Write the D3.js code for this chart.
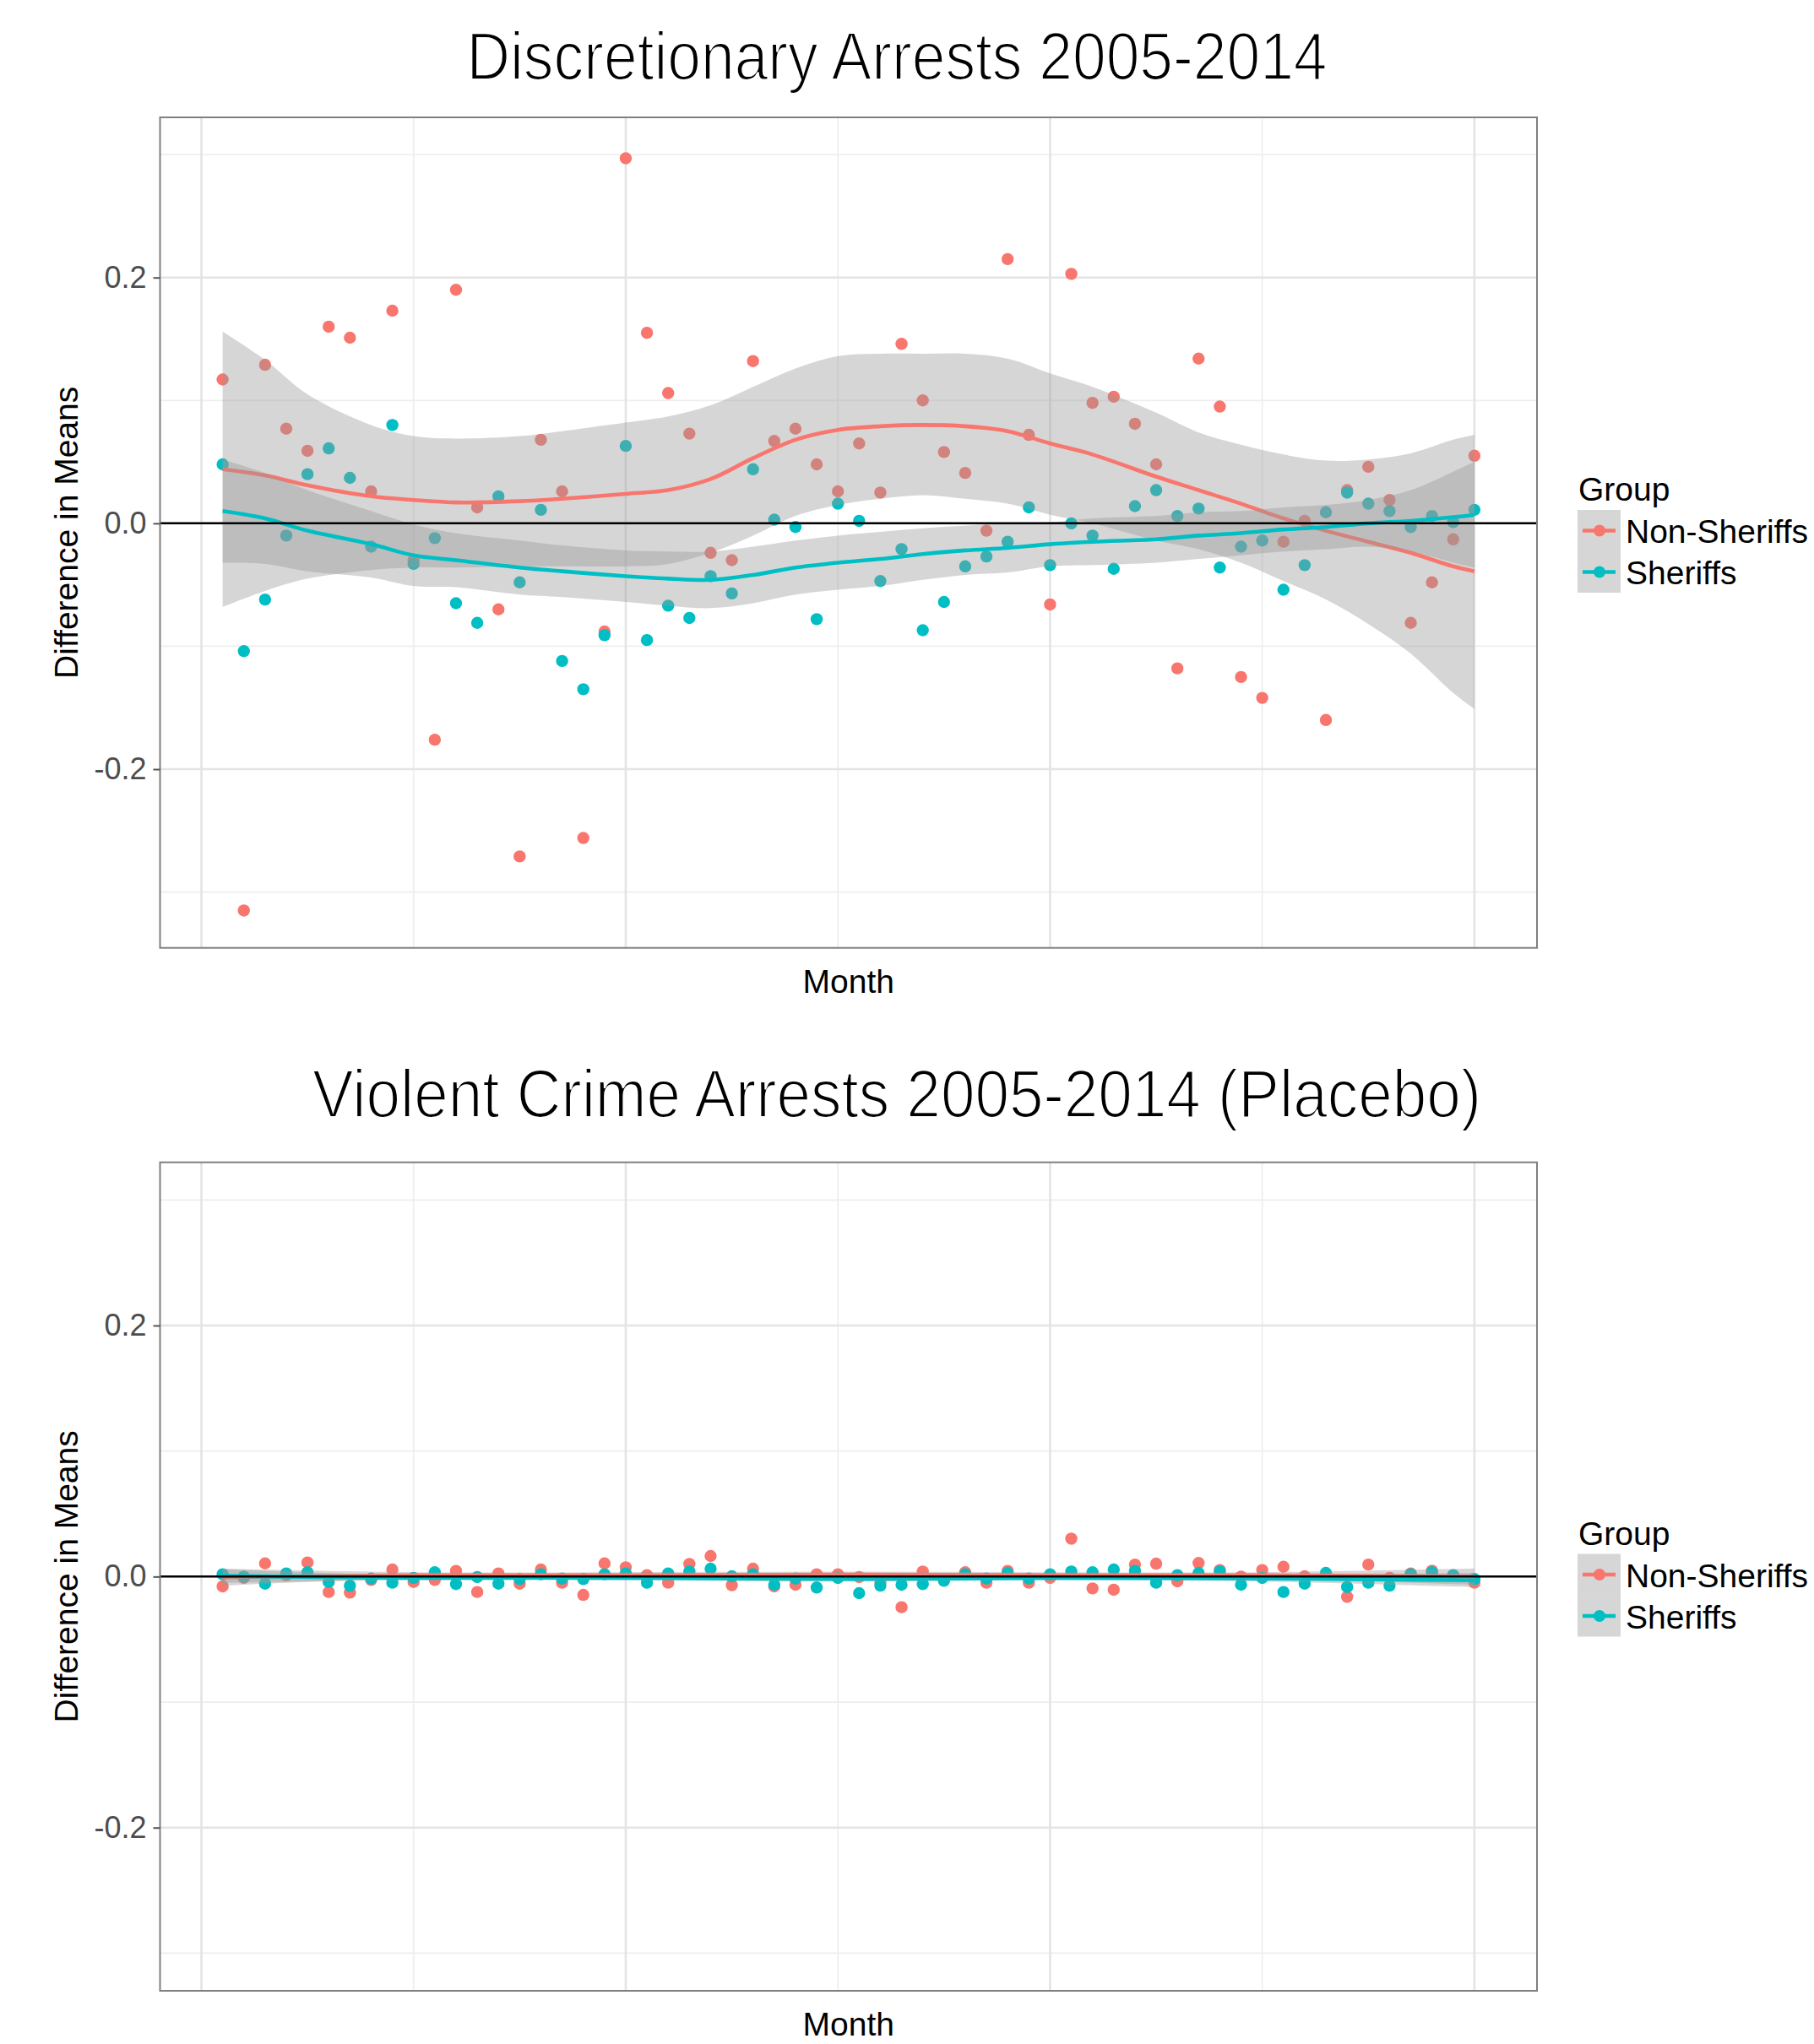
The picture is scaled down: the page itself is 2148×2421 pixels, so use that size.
<!DOCTYPE html>
<html>
<head>
<meta charset="utf-8">
<script src="https://cdn.jsdelivr.net/npm/d3@7"></script>
<style>
  body { margin: 0; background: #ffffff; }
  svg { display: block; }
</style>
</head>
<body>
<svg id="chart" width="2148" height="2421"></svg>
<script>
// ---------------- DATA ----------------
const months = [1,2,3,4,5,6,7,8,9,10,11,12,13,14,15,16,17,18,19,20,
  21,22,23,24,25,26,27,28,29,30,31,32,33,34,35,36,37,38,39,40,
  41,42,43,44,45,46,47,48,49,50,51,52,53,54,55,56,57,58,59,60];

const groups = ["Non-Sheriffs", "Sheriffs"];
const yTicksMajor = [-0.2, 0.0, 0.2];
const yTicksMinor = [-0.3, -0.1, 0.1, 0.3];
const xTicksMajor = [0, 20, 40, 60];
const xTicksMinor = [10, 30, 50];

// Discretionary arrests: difference in means by month
const discNonSheriffs = [0.117,-0.315,0.129,0.077,0.059,0.160,0.151,0.026,0.173,-0.030,
  -0.176,0.190,0.013,-0.070,-0.271,0.068,0.026,-0.256,-0.088,0.297,
  0.155,0.106,0.073,-0.024,-0.030,0.132,0.067,0.077,0.048,0.026,
  0.065,0.025,0.146,0.100,0.058,0.041,-0.006,0.215,0.072,-0.066,
  0.203,0.098,0.103,0.081,0.048,-0.118,0.134,0.095,-0.125,-0.142,
  -0.015,0.002,-0.160,0.027,0.046,0.019,-0.081,-0.048,-0.013,0.055];
const discSheriffs = [0.048,-0.104,-0.062,-0.010,0.040,0.061,0.037,-0.019,0.080,-0.033,
  -0.012,-0.065,-0.081,0.022,-0.048,0.011,-0.112,-0.135,-0.091,0.063,
  -0.095,-0.067,-0.077,-0.043,-0.057,0.044,0.003,-0.003,-0.078,0.016,
  0.002,-0.047,-0.021,-0.087,-0.064,-0.035,-0.027,-0.015,0.013,-0.034,
  0.000,-0.010,-0.037,0.014,0.027,0.006,0.012,-0.036,-0.019,-0.014,
  -0.054,-0.034,0.009,0.025,0.016,0.010,-0.003,0.006,0.001,0.011];

// Loess smooth for discretionary arrests
const discSmoothMonths = [1,3,5,8,10,12,15,17,20,22,24,26,28,30,32,34,36,38,40,42,45,47,49,51,53,55,57,59,60];
const discNonFit   = [0.044,0.039,0.031,0.022,0.019,0.017,0.018,0.020,0.024,0.027,0.036,0.053,0.068,0.076,0.079,0.080,0.079,0.075,0.065,0.056,0.038,0.027,0.016,0.004,-0.006,-0.015,-0.024,-0.035,-0.039];
const discNonUpper = [0.156,0.133,0.105,0.080,0.071,0.069,0.071,0.075,0.082,0.087,0.096,0.111,0.126,0.136,0.138,0.138,0.138,0.134,0.122,0.111,0.090,0.074,0.064,0.056,0.051,0.052,0.057,0.068,0.072];
const discNonLower = [-0.068,-0.055,-0.045,-0.038,-0.036,-0.036,-0.035,-0.035,-0.035,-0.033,-0.024,-0.010,0.006,0.015,0.020,0.023,0.020,0.016,0.007,0.000,-0.014,-0.021,-0.032,-0.047,-0.062,-0.082,-0.106,-0.138,-0.151];
const discShFit    = [0.010,0.004,-0.006,-0.017,-0.026,-0.030,-0.036,-0.039,-0.043,-0.045,-0.046,-0.042,-0.036,-0.032,-0.029,-0.025,-0.022,-0.020,-0.017,-0.015,-0.013,-0.010,-0.008,-0.005,-0.003,0.000,0.002,0.005,0.007];
const discShUpper  = [0.052,0.041,0.027,0.010,-0.001,-0.008,-0.014,-0.018,-0.022,-0.023,-0.023,-0.019,-0.014,-0.010,-0.007,-0.004,-0.002,0.000,0.001,0.004,0.006,0.009,0.010,0.013,0.015,0.019,0.027,0.042,0.050];
const discShLower  = [-0.032,-0.033,-0.039,-0.044,-0.051,-0.052,-0.058,-0.060,-0.064,-0.067,-0.069,-0.065,-0.058,-0.054,-0.051,-0.046,-0.042,-0.040,-0.035,-0.034,-0.032,-0.029,-0.026,-0.023,-0.021,-0.019,-0.023,-0.032,-0.036];

// Violent crime arrests (placebo)
const violNonSheriffs = [-0.0078,-0.0010,0.0105,0.0010,0.0112,-0.0123,-0.0128,-0.0027,0.0056,-0.0043,
  -0.0027,0.0045,-0.0123,0.0025,-0.0056,0.0056,-0.0049,-0.0146,0.0105,0.0074,
  0.0011,-0.0049,0.0101,0.0164,-0.0069,0.0063,-0.0078,-0.0065,0.0018,0.0018,
  -0.0004,-0.0050,-0.0244,0.0040,-0.0020,0.0034,-0.0049,0.0045,-0.0049,-0.0011,
  0.0302,-0.0094,-0.0105,0.0096,0.0103,-0.0038,0.0108,0.0052,0.0000,0.0052,
  0.0078,0.0002,0.0020,-0.0161,0.0096,-0.0010,0.0025,0.0047,0.0010,-0.0049];
const violSheriffs = [0.0018,0.0000,-0.0056,0.0025,0.0034,-0.0043,-0.0072,-0.0016,-0.0049,-0.0011,
  0.0034,-0.0060,-0.0004,-0.0056,-0.0020,0.0018,-0.0016,-0.0020,0.0018,0.0025,
  -0.0049,0.0025,0.0040,0.0063,0.0002,0.0018,-0.0065,-0.0016,-0.0087,-0.0011,
  -0.0132,-0.0072,-0.0065,-0.0060,-0.0034,0.0018,-0.0016,0.0029,-0.0016,0.0018,
  0.0040,0.0034,0.0056,0.0045,-0.0049,0.0011,0.0029,0.0040,-0.0065,-0.0011,
  -0.0123,-0.0056,0.0029,-0.0083,-0.0049,-0.0072,0.0018,0.0034,0.0011,-0.0020];

const violSmoothMonths = [1,10,20,30,40,50,60];
const violNonFit   = [-0.0005,0.0010,0.0010,0.0015,0.0010,0.0010,0.0000];
const violNonUpper = [0.0063,0.0035,0.0035,0.0040,0.0035,0.0035,0.0065];
const violNonLower = [-0.0073,-0.0015,-0.0015,-0.0010,-0.0015,-0.0015,-0.0065];
const violShFit    = [0.0005,-0.0010,-0.0010,-0.0020,-0.0010,-0.0015,-0.0030];
const violShUpper  = [0.0060,0.0010,0.0010,0.0000,0.0010,0.0010,0.0030];
const violShLower  = [-0.0050,-0.0030,-0.0030,-0.0040,-0.0030,-0.0040,-0.0085];

// ---------------- LAYOUT / STYLE ----------------
const COLORS = { "Non-Sheriffs": "#F8766D", "Sheriffs": "#00BFC4" };
const FONT = "'Liberation Sans', Arial, Helvetica, sans-serif";
const svg = d3.select("#chart");
svg.append("rect").attr("width", 2148).attr("height", 2421).attr("fill", "#ffffff");

const panelLeft = 189.5, panelRight = 1820;
const x = d3.scaleLinear().domain([-1.95, 62.95]).range([panelLeft, panelRight]);

const panels = [
  { title: "Discretionary Arrests 2005-2014", titleY: 94, titleLen: 1019,
    top: 139, bottom: 1122.7, domain: [-0.3454, 0.3303],
    series: [discNonSheriffs, discSheriffs],
    smoothX: discSmoothMonths,
    fits: [[discNonFit, discNonUpper, discNonLower], [discShFit, discShUpper, discShLower]] },
  { title: "Violent Crime Arrests 2005-2014 (Placebo)", titleY: 1322.7, titleLen: 1384,
    top: 1376.7, bottom: 2358, domain: [-0.33, 0.33],
    series: [violNonSheriffs, violSheriffs],
    smoothX: violSmoothMonths,
    fits: [[violNonFit, violNonUpper, violNonLower], [violShFit, violShUpper, violShLower]] }
];

panels.forEach(p => {
  const y = d3.scaleLinear().domain(p.domain).range([p.bottom, p.top]);
  const g = svg.append("g");

  // title (thin, condensed look: white stroke erodes glyph edges)
  svg.append("text")
    .attr("x", 1062).attr("y", p.titleY)
    .attr("text-anchor", "middle")
    .attr("font-family", FONT).attr("font-size", 79)
    .attr("textLength", p.titleLen).attr("lengthAdjust", "spacingAndGlyphs")
    .attr("fill", "#000")
    .attr("stroke", "#fff").attr("stroke-width", 2.2)
    .attr("paint-order", "fill")
    .text(p.title);

  // grid
  const grid = g.append("g");
  grid.selectAll(".ymin").data(yTicksMinor).join("line")
    .attr("x1", panelLeft).attr("x2", panelRight)
    .attr("y1", d => y(d)).attr("y2", d => y(d))
    .attr("stroke", "#eeeeee").attr("stroke-width", 1.8);
  grid.selectAll(".xmin").data(xTicksMinor).join("line")
    .attr("y1", p.top).attr("y2", p.bottom)
    .attr("x1", d => x(d)).attr("x2", d => x(d))
    .attr("stroke", "#eeeeee").attr("stroke-width", 1.8);
  grid.selectAll(".ymaj").data(yTicksMajor).join("line")
    .attr("x1", panelLeft).attr("x2", panelRight)
    .attr("y1", d => y(d)).attr("y2", d => y(d))
    .attr("stroke", "#e4e4e4").attr("stroke-width", 2.6);
  grid.selectAll(".xmaj").data(xTicksMajor).join("line")
    .attr("y1", p.top).attr("y2", p.bottom)
    .attr("x1", d => x(d)).attr("x2", d => x(d))
    .attr("stroke", "#e4e4e4").attr("stroke-width", 2.6);

  // points (drawn first, smooth ribbons on top as in ggplot layer order)
  groups.forEach((grp, gi) => {
    g.append("g").selectAll("circle").data(months).join("circle")
      .attr("cx", (d) => x(d))
      .attr("cy", (d, i) => y(p.series[gi][i]))
      .attr("r", 7.2)
      .attr("fill", COLORS[grp]);
  });

  // smooths
  const area = d3.area().curve(d3.curveCatmullRom.alpha(0.5))
    .x(d => x(d.m)).y0(d => y(d.lo)).y1(d => y(d.hi));
  const line = d3.line().curve(d3.curveCatmullRom.alpha(0.5))
    .x(d => x(d.m)).y(d => y(d.v));
  groups.forEach((grp, gi) => {
    const [fit, up, lo] = p.fits[gi];
    const rows = p.smoothX.map((m, i) => ({ m, v: fit[i], hi: up[i], lo: lo[i] }));
    g.append("path").datum(rows).attr("d", area)
      .attr("fill", "#999999").attr("fill-opacity", 0.4);
    g.append("path").datum(rows).attr("d", line)
      .attr("fill", "none").attr("stroke", COLORS[grp]).attr("stroke-width", 4.6);
  });

  // zero reference line
  g.append("line")
    .attr("x1", panelLeft).attr("x2", panelRight)
    .attr("y1", y(0)).attr("y2", y(0))
    .attr("stroke", "#000").attr("stroke-width", 2.5);

  // panel border
  g.append("rect")
    .attr("x", panelLeft).attr("y", p.top)
    .attr("width", panelRight - panelLeft).attr("height", p.bottom - p.top)
    .attr("fill", "none").attr("stroke", "#7f7f7f").attr("stroke-width", 2);

  // y axis (ticks + labels)
  const yAxis = d3.axisLeft(y).tickValues(yTicksMajor)
    .tickFormat(d3.format(".1f")).tickSize(8).tickPadding(8);
  const ax = svg.append("g").attr("transform", `translate(${panelLeft},0)`).call(yAxis);
  ax.select(".domain").remove();
  ax.selectAll(".tick line").attr("stroke", "#555").attr("stroke-width", 2);
  ax.selectAll(".tick text")
    .attr("font-family", FONT).attr("font-size", 36).attr("fill", "#4d4d4d")
    .text(d => d3.format(".1f")(d).replace("−", "-"));

  // axis titles
  const cy = (p.top + p.bottom) / 2;
  svg.append("text")
    .attr("transform", `translate(91.5,${cy}) rotate(-90)`)
    .attr("text-anchor", "middle")
    .attr("font-family", FONT).attr("font-size", 39).attr("fill", "#000")
    .text("Difference in Means");
  svg.append("text")
    .attr("x", (panelLeft + panelRight) / 2).attr("y", p.bottom + 53.3)
    .attr("text-anchor", "middle")
    .attr("font-family", FONT).attr("font-size", 39).attr("fill", "#000")
    .text("Month");

  // legend
  const off = cy - 630.85;
  const lg = svg.append("g").attr("transform", `translate(0,${off})`);
  lg.append("text").attr("x", 1869).attr("y", 593)
    .attr("font-family", FONT).attr("font-size", 39).attr("fill", "#000").text("Group");
  groups.forEach((grp, gi) => {
    const ky = 604 + gi * 49;
    lg.append("rect").attr("x", 1868).attr("y", ky).attr("width", 51).attr("height", 49)
      .attr("fill", "#999999").attr("fill-opacity", 0.4);
    lg.append("line").attr("x1", 1874).attr("x2", 1913)
      .attr("y1", ky + 24.5).attr("y2", ky + 24.5)
      .attr("stroke", COLORS[grp]).attr("stroke-width", 4.6);
    lg.append("circle").attr("cx", 1894).attr("cy", ky + 24.5).attr("r", 7)
      .attr("fill", COLORS[grp]);
    lg.append("text").attr("x", 1925).attr("y", ky + 39)
      .attr("font-family", FONT).attr("font-size", 39).attr("fill", "#000").text(grp);
  });
});
</script>
</body>
</html>
